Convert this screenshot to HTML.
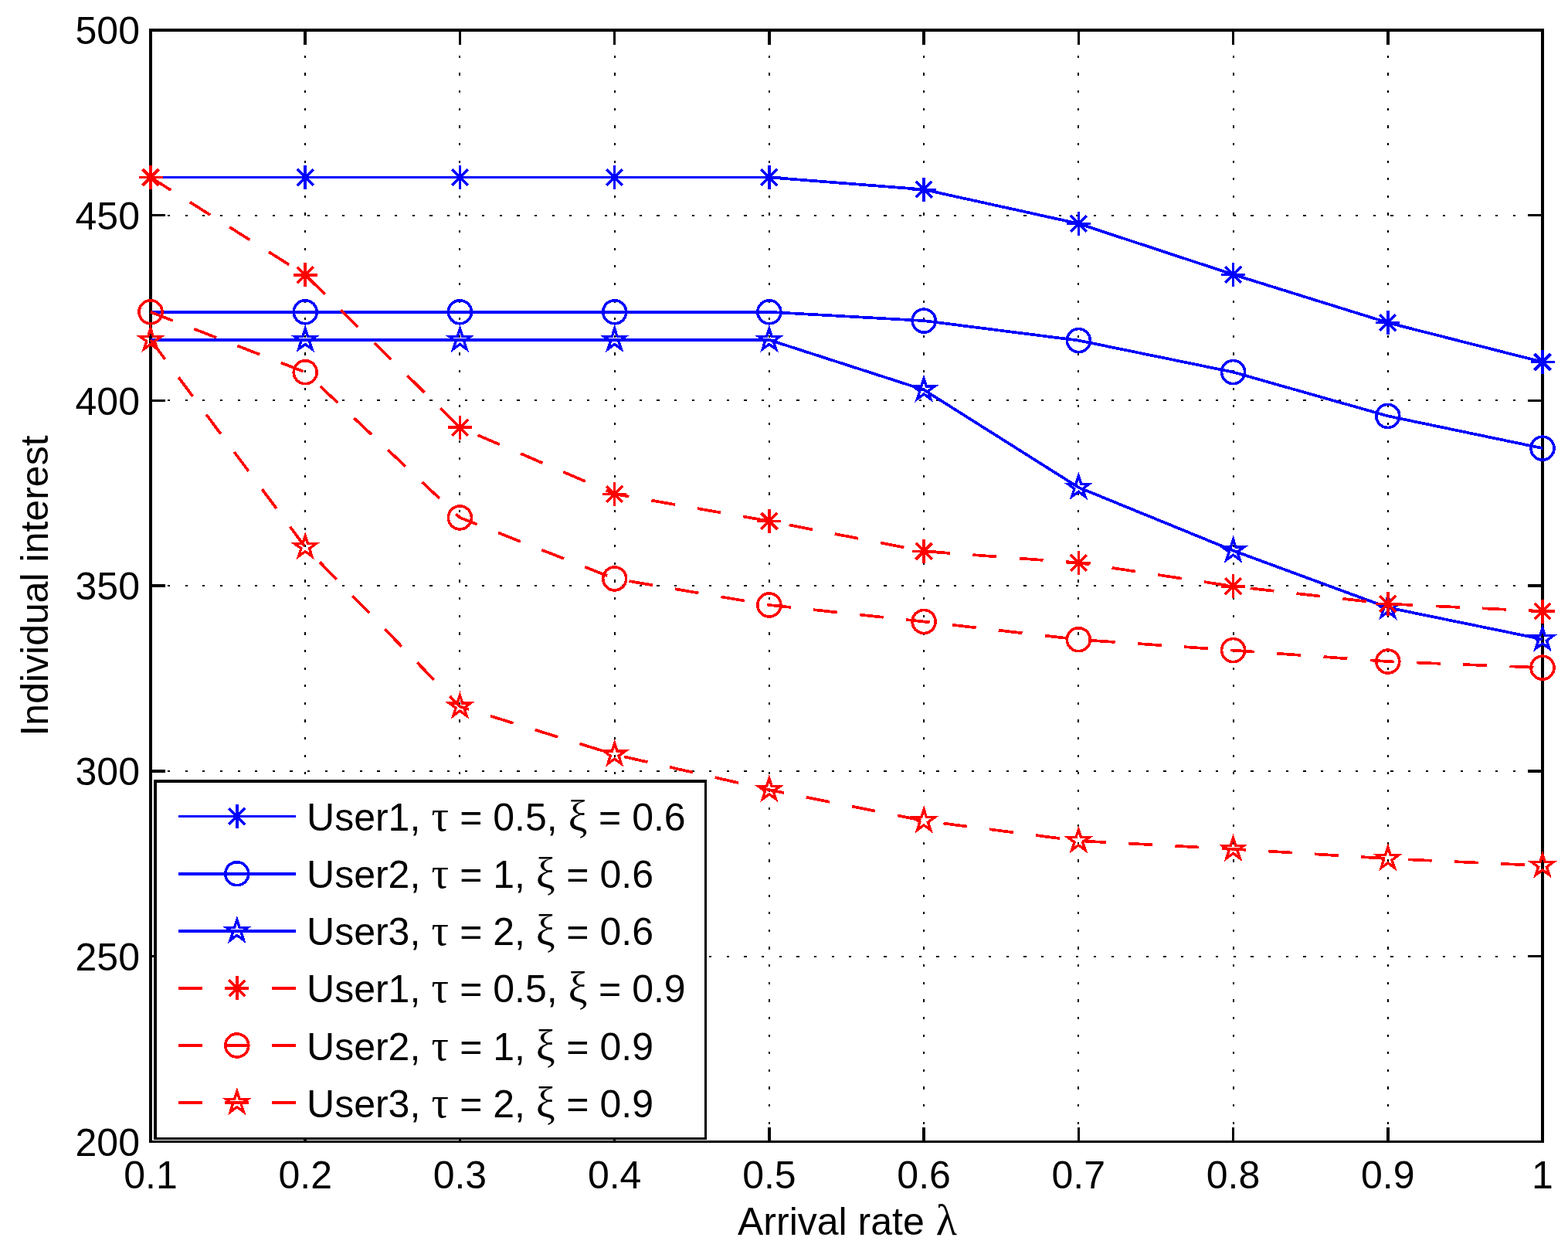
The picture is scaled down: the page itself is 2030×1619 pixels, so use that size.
<!DOCTYPE html>
<html lang="en"><head><meta charset="utf-8"><title>Individual interest vs arrival rate</title>
<style>
html,body{margin:0;padding:0;background:#fff;}
body{width:2030px;height:1619px;overflow:hidden;}
svg{display:block;}
text{font-family:"Liberation Sans",sans-serif;font-size:50px;fill:#000;}
.g{font-family:"Liberation Serif","DejaVu Serif",serif;font-size:56px;}
.m{fill:none;stroke-width:3.6;stroke-linejoin:miter;stroke-miterlimit:10;}
.l{fill:none;stroke-width:3.7;stroke-linejoin:round;}
.d{stroke-dasharray:31.0 29.33;}
</style></head><body>
<svg width="2030" height="1619" viewBox="0 0 2030 1619" shape-rendering="crispEdges">
<rect x="0" y="0" width="2030" height="1619" fill="#fff"/>
<g stroke="#000" stroke-width="2" fill="none" stroke-dasharray="3.2 19.42">
<path d="M395 1477.5V39"/>
<path d="M595 1477.5V39"/>
<path d="M796 1477.5V39"/>
<path d="M996 1477.5V39"/>
<path d="M1196 1477.5V39"/>
<path d="M1396 1477.5V39"/>
<path d="M1597 1477.5V39"/>
<path d="M1797 1477.5V39"/>
<path d="M194.4 279H1997"/>
<path d="M194.4 518H1997"/>
<path d="M194.4 758H1997"/>
<path d="M194.4 998H1997"/>
<path d="M194.4 1238H1997"/>
</g>
<path d="M193 37H1999V41H193zM193 1476H1999V1479H193zM193 37H197V1479H193zM1995 37H1999V1479H1995z" fill="#000"/>
<path d="M393 1459H397V1477H393zM393 40H397V58H393zM594 1459H597V1477H594zM594 40H597V58H594zM794 1459H797V1477H794zM794 40H797V58H794zM994 1459H998V1477H994zM994 40H998V58H994zM1194 1459H1198V1477H1194zM1194 40H1198V58H1194zM1395 1459H1398V1477H1395zM1395 40H1398V58H1395zM1595 1459H1598V1477H1595zM1595 40H1598V58H1595zM1795 1459H1799V1477H1795zM1795 40H1799V58H1795zM196 277H214V280H196zM1978 277H1996V280H1978zM196 517H214V520H196zM1978 517H1996V520H1978zM196 756H214V760H196zM1978 756H1996V760H1978zM196 996H214V1000H196zM1978 996H1996V1000H1978zM196 1236H214V1239H196zM1978 1236H1996V1239H1978z" fill="#000"/>
<g text-anchor="end">
<text x="181" y="56.5">500</text>
<text x="181" y="296.85">450</text>
<text x="181" y="536.6">400</text>
<text x="181" y="776.35">350</text>
<text x="181" y="1016.1">300</text>
<text x="181" y="1255.85">250</text>
<text x="181" y="1495.6">200</text>
</g>
<g text-anchor="middle">
<text x="195" y="1537.5">0.1</text>
<text x="395.22" y="1537.5">0.2</text>
<text x="595.44" y="1537.5">0.3</text>
<text x="795.67" y="1537.5">0.4</text>
<text x="995.89" y="1537.5">0.5</text>
<text x="1196.11" y="1537.5">0.6</text>
<text x="1396.33" y="1537.5">0.7</text>
<text x="1596.56" y="1537.5">0.8</text>
<text x="1796.78" y="1537.5">0.9</text>
<text x="1997" y="1537.5">1</text>
</g>
<text y="1598"><tspan x="955">Arrival rate </tspan><tspan class="g" x="1211.8">λ</tspan></text>
<text transform="translate(62.3 758) rotate(-90)" text-anchor="middle">Individual interest</text>
<polyline class="l" points="195,229.5 395.22,229.5 595.44,229.5 795.67,229.5 995.89,229.5 1196.11,245.3 1396.33,289.4 1596.56,355.3 1796.78,417.6 1997,468.5" stroke="#0000ff"/>
<g class="m"><path d="M179.5 229.5H210.5M195 214V245M184.6 219.1L205.4 239.9M184.6 239.9L205.4 219.1" stroke="#0000ff"/><path d="M379.72 229.5H410.72M395.22 214V245M384.82 219.1L405.62 239.9M384.82 239.9L405.62 219.1" stroke="#0000ff"/><path d="M579.94 229.5H610.94M595.44 214V245M585.04 219.1L605.84 239.9M585.04 239.9L605.84 219.1" stroke="#0000ff"/><path d="M780.17 229.5H811.17M795.67 214V245M785.27 219.1L806.07 239.9M785.27 239.9L806.07 219.1" stroke="#0000ff"/><path d="M980.39 229.5H1011.39M995.89 214V245M985.49 219.1L1006.29 239.9M985.49 239.9L1006.29 219.1" stroke="#0000ff"/><path d="M1180.61 245.3H1211.61M1196.11 229.8V260.8M1185.71 234.9L1206.51 255.7M1185.71 255.7L1206.51 234.9" stroke="#0000ff"/><path d="M1380.83 289.4H1411.83M1396.33 273.9V304.9M1385.93 279L1406.73 299.8M1385.93 299.8L1406.73 279" stroke="#0000ff"/><path d="M1581.06 355.3H1612.06M1596.56 339.8V370.8M1586.16 344.9L1606.96 365.7M1586.16 365.7L1606.96 344.9" stroke="#0000ff"/><path d="M1781.28 417.6H1812.28M1796.78 402.1V433.1M1786.38 407.2L1807.18 428M1786.38 428L1807.18 407.2" stroke="#0000ff"/><path d="M1981.5 468.5H2012.5M1997 453V484M1986.6 458.1L2007.4 478.9M1986.6 478.9L2007.4 458.1" stroke="#0000ff"/></g>
<polyline class="l" points="195,403.8 395.22,403.8 595.44,403.8 795.67,403.8 995.89,403.8 1196.11,415.1 1396.33,440.6 1596.56,481.6 1796.78,538.4 1997,580.1" stroke="#0000ff"/>
<g class="m"><circle cx="195" cy="403.8" r="15.0" stroke="#0000ff"/><circle cx="395.22" cy="403.8" r="15.0" stroke="#0000ff"/><circle cx="595.44" cy="403.8" r="15.0" stroke="#0000ff"/><circle cx="795.67" cy="403.8" r="15.0" stroke="#0000ff"/><circle cx="995.89" cy="403.8" r="15.0" stroke="#0000ff"/><circle cx="1196.11" cy="415.1" r="15.0" stroke="#0000ff"/><circle cx="1396.33" cy="440.6" r="15.0" stroke="#0000ff"/><circle cx="1596.56" cy="481.6" r="15.0" stroke="#0000ff"/><circle cx="1796.78" cy="538.4" r="15.0" stroke="#0000ff"/><circle cx="1997" cy="580.1" r="15.0" stroke="#0000ff"/></g>
<polyline class="l" points="195,439.9 395.22,439.9 595.44,439.9 795.67,439.9 995.89,439.9 1196.11,504.5 1396.33,630.8 1596.56,712.6 1796.78,786.3 1997,827.3" stroke="#0000ff"/>
<g class="m"><polygon points="195,425.2 198.3,435.36 208.98,435.36 200.34,441.64 203.64,451.79 195,445.51 186.36,451.79 189.66,441.64 181.02,435.36 191.7,435.36" stroke="#0000ff" stroke-width="3.4"/><polygon points="395.22,425.2 398.52,435.36 409.2,435.36 400.56,441.64 403.86,451.79 395.22,445.51 386.58,451.79 389.88,441.64 381.24,435.36 391.92,435.36" stroke="#0000ff" stroke-width="3.4"/><polygon points="595.44,425.2 598.74,435.36 609.42,435.36 600.78,441.64 604.08,451.79 595.44,445.51 586.8,451.79 590.1,441.64 581.46,435.36 592.14,435.36" stroke="#0000ff" stroke-width="3.4"/><polygon points="795.67,425.2 798.97,435.36 809.65,435.36 801.01,441.64 804.31,451.79 795.67,445.51 787.03,451.79 790.33,441.64 781.69,435.36 792.37,435.36" stroke="#0000ff" stroke-width="3.4"/><polygon points="995.89,425.2 999.19,435.36 1009.87,435.36 1001.23,441.64 1004.53,451.79 995.89,445.51 987.25,451.79 990.55,441.64 981.91,435.36 992.59,435.36" stroke="#0000ff" stroke-width="3.4"/><polygon points="1196.11,489.8 1199.41,499.96 1210.09,499.96 1201.45,506.24 1204.75,516.39 1196.11,510.11 1187.47,516.39 1190.77,506.24 1182.13,499.96 1192.81,499.96" stroke="#0000ff" stroke-width="3.4"/><polygon points="1396.33,616.1 1399.63,626.26 1410.31,626.26 1401.67,632.54 1404.97,642.69 1396.33,636.41 1387.69,642.69 1390.99,632.54 1382.35,626.26 1393.03,626.26" stroke="#0000ff" stroke-width="3.4"/><polygon points="1596.56,697.9 1599.86,708.06 1610.54,708.06 1601.9,714.34 1605.2,724.49 1596.56,718.21 1587.92,724.49 1591.22,714.34 1582.58,708.06 1593.26,708.06" stroke="#0000ff" stroke-width="3.4"/><polygon points="1796.78,771.6 1800.08,781.76 1810.76,781.76 1802.12,788.04 1805.42,798.19 1796.78,791.91 1788.14,798.19 1791.44,788.04 1782.8,781.76 1793.48,781.76" stroke="#0000ff" stroke-width="3.4"/><polygon points="1997,812.6 2000.3,822.76 2010.98,822.76 2002.34,829.04 2005.64,839.19 1997,832.91 1988.36,839.19 1991.66,829.04 1983.02,822.76 1993.7,822.76" stroke="#0000ff" stroke-width="3.4"/></g>
<polyline class="l d" points="195,229.5 395.22,355.8 595.44,553.2 795.67,639.3 995.89,674.4 1196.11,713.4 1396.33,728.3 1596.56,758.8 1796.78,781.5 1997,791" stroke="#ff0000"/>
<g class="m"><path d="M179.5 229.5H210.5M195 214V245M184.6 219.1L205.4 239.9M184.6 239.9L205.4 219.1" stroke="#ff0000"/><path d="M379.72 355.8H410.72M395.22 340.3V371.3M384.82 345.4L405.62 366.2M384.82 366.2L405.62 345.4" stroke="#ff0000"/><path d="M579.94 553.2H610.94M595.44 537.7V568.7M585.04 542.8L605.84 563.6M585.04 563.6L605.84 542.8" stroke="#ff0000"/><path d="M780.17 639.3H811.17M795.67 623.8V654.8M785.27 628.9L806.07 649.7M785.27 649.7L806.07 628.9" stroke="#ff0000"/><path d="M980.39 674.4H1011.39M995.89 658.9V689.9M985.49 664L1006.29 684.8M985.49 684.8L1006.29 664" stroke="#ff0000"/><path d="M1180.61 713.4H1211.61M1196.11 697.9V728.9M1185.71 703L1206.51 723.8M1185.71 723.8L1206.51 703" stroke="#ff0000"/><path d="M1380.83 728.3H1411.83M1396.33 712.8V743.8M1385.93 717.9L1406.73 738.7M1385.93 738.7L1406.73 717.9" stroke="#ff0000"/><path d="M1581.06 758.8H1612.06M1596.56 743.3V774.3M1586.16 748.4L1606.96 769.2M1586.16 769.2L1606.96 748.4" stroke="#ff0000"/><path d="M1781.28 781.5H1812.28M1796.78 766V797M1786.38 771.1L1807.18 791.9M1786.38 791.9L1807.18 771.1" stroke="#ff0000"/><path d="M1981.5 791H2012.5M1997 775.5V806.5M1986.6 780.6L2007.4 801.4M1986.6 801.4L2007.4 780.6" stroke="#ff0000"/></g>
<polyline class="l d" points="195,403.8 395.22,481.7 595.44,669.9 795.67,748.9 995.89,783 1196.11,804.5 1396.33,827.7 1596.56,841.6 1796.78,856.1 1997,864.1" stroke="#ff0000"/>
<g class="m"><circle cx="195" cy="403.8" r="15.0" stroke="#ff0000"/><circle cx="395.22" cy="481.7" r="15.0" stroke="#ff0000"/><circle cx="595.44" cy="669.9" r="15.0" stroke="#ff0000"/><circle cx="795.67" cy="748.9" r="15.0" stroke="#ff0000"/><circle cx="995.89" cy="783" r="15.0" stroke="#ff0000"/><circle cx="1196.11" cy="804.5" r="15.0" stroke="#ff0000"/><circle cx="1396.33" cy="827.7" r="15.0" stroke="#ff0000"/><circle cx="1596.56" cy="841.6" r="15.0" stroke="#ff0000"/><circle cx="1796.78" cy="856.1" r="15.0" stroke="#ff0000"/><circle cx="1997" cy="864.1" r="15.0" stroke="#ff0000"/></g>
<polyline class="l d" points="195,439.9 395.22,708.1 595.44,914.4 795.67,976.5 995.89,1022.2 1196.11,1062.3 1396.33,1088.2 1596.56,1098.8 1796.78,1111.2 1997,1120.3" stroke="#ff0000"/>
<g class="m"><polygon points="195,425.2 198.3,435.36 208.98,435.36 200.34,441.64 203.64,451.79 195,445.51 186.36,451.79 189.66,441.64 181.02,435.36 191.7,435.36" stroke="#ff0000" stroke-width="3.4"/><polygon points="395.22,693.4 398.52,703.56 409.2,703.56 400.56,709.84 403.86,719.99 395.22,713.71 386.58,719.99 389.88,709.84 381.24,703.56 391.92,703.56" stroke="#ff0000" stroke-width="3.4"/><polygon points="595.44,899.7 598.74,909.86 609.42,909.86 600.78,916.14 604.08,926.29 595.44,920.01 586.8,926.29 590.1,916.14 581.46,909.86 592.14,909.86" stroke="#ff0000" stroke-width="3.4"/><polygon points="795.67,961.8 798.97,971.96 809.65,971.96 801.01,978.24 804.31,988.39 795.67,982.11 787.03,988.39 790.33,978.24 781.69,971.96 792.37,971.96" stroke="#ff0000" stroke-width="3.4"/><polygon points="995.89,1007.5 999.19,1017.66 1009.87,1017.66 1001.23,1023.94 1004.53,1034.09 995.89,1027.81 987.25,1034.09 990.55,1023.94 981.91,1017.66 992.59,1017.66" stroke="#ff0000" stroke-width="3.4"/><polygon points="1196.11,1047.6 1199.41,1057.76 1210.09,1057.76 1201.45,1064.04 1204.75,1074.19 1196.11,1067.91 1187.47,1074.19 1190.77,1064.04 1182.13,1057.76 1192.81,1057.76" stroke="#ff0000" stroke-width="3.4"/><polygon points="1396.33,1073.5 1399.63,1083.66 1410.31,1083.66 1401.67,1089.94 1404.97,1100.09 1396.33,1093.81 1387.69,1100.09 1390.99,1089.94 1382.35,1083.66 1393.03,1083.66" stroke="#ff0000" stroke-width="3.4"/><polygon points="1596.56,1084.1 1599.86,1094.26 1610.54,1094.26 1601.9,1100.54 1605.2,1110.69 1596.56,1104.41 1587.92,1110.69 1591.22,1100.54 1582.58,1094.26 1593.26,1094.26" stroke="#ff0000" stroke-width="3.4"/><polygon points="1796.78,1096.5 1800.08,1106.66 1810.76,1106.66 1802.12,1112.94 1805.42,1123.09 1796.78,1116.81 1788.14,1123.09 1791.44,1112.94 1782.8,1106.66 1793.48,1106.66" stroke="#ff0000" stroke-width="3.4"/><polygon points="1997,1105.6 2000.3,1115.76 2010.98,1115.76 2002.34,1122.04 2005.64,1132.19 1997,1125.91 1988.36,1132.19 1991.66,1122.04 1983.02,1115.76 1993.7,1115.76" stroke="#ff0000" stroke-width="3.4"/></g>
<path d="M199 1009H915V1475H199z" fill="#000"/><path d="M203 1013H912V1472H203z" fill="#fff"/>
<path class="l" d="M231 1056.6H383.2" stroke="#0000ff"/>
<g class="m"><path d="M291.3 1056.6H322.3M306.8 1041.1V1072.1M296.4 1046.2L317.2 1067M296.4 1067L317.2 1046.2" stroke="#0000ff"/></g>
<text y="1075.1"><tspan x="397.05">User1, </tspan><tspan class="g" x="558.48">τ </tspan><tspan x="595.2">= 0.5, </tspan><tspan class="g" x="735.42">ξ </tspan><tspan x="775.05">= 0.6</tspan></text>
<path class="l" d="M231 1130.7H383.2" stroke="#0000ff"/>
<g class="m"><circle cx="306.8" cy="1130.7" r="15.0" stroke="#0000ff"/></g>
<text y="1149.2"><tspan x="397.05">User2, </tspan><tspan class="g" x="558.48">τ </tspan><tspan x="595.2">= 1, </tspan><tspan class="g" x="693.72">ξ </tspan><tspan x="733.35">= 0.6</tspan></text>
<path class="l" d="M231 1204.8H383.2" stroke="#0000ff"/>
<g class="m"><polygon points="306.8,1190.1 310.1,1200.26 320.78,1200.26 312.14,1206.54 315.44,1216.69 306.8,1210.41 298.16,1216.69 301.46,1206.54 292.82,1200.26 303.5,1200.26" stroke="#0000ff" stroke-width="3.4"/></g>
<text y="1223.3"><tspan x="397.05">User3, </tspan><tspan class="g" x="558.48">τ </tspan><tspan x="595.2">= 2, </tspan><tspan class="g" x="693.72">ξ </tspan><tspan x="733.35">= 0.6</tspan></text>
<path class="l d" d="M231 1278.9H383.2" stroke="#ff0000"/>
<g class="m"><path d="M291.3 1278.9H322.3M306.8 1263.4V1294.4M296.4 1268.5L317.2 1289.3M296.4 1289.3L317.2 1268.5" stroke="#ff0000"/></g>
<text y="1297.4"><tspan x="397.05">User1, </tspan><tspan class="g" x="558.48">τ </tspan><tspan x="595.2">= 0.5, </tspan><tspan class="g" x="735.42">ξ </tspan><tspan x="775.05">= 0.9</tspan></text>
<path class="l d" d="M231 1353H383.2" stroke="#ff0000"/>
<g class="m"><circle cx="306.8" cy="1353" r="15.0" stroke="#ff0000"/></g>
<text y="1371.5"><tspan x="397.05">User2, </tspan><tspan class="g" x="558.48">τ </tspan><tspan x="595.2">= 1, </tspan><tspan class="g" x="693.72">ξ </tspan><tspan x="733.35">= 0.9</tspan></text>
<path class="l d" d="M231 1427.1H383.2" stroke="#ff0000"/>
<g class="m"><polygon points="306.8,1412.4 310.1,1422.56 320.78,1422.56 312.14,1428.84 315.44,1438.99 306.8,1432.71 298.16,1438.99 301.46,1428.84 292.82,1422.56 303.5,1422.56" stroke="#ff0000" stroke-width="3.4"/></g>
<text y="1445.6"><tspan x="397.05">User3, </tspan><tspan class="g" x="558.48">τ </tspan><tspan x="595.2">= 2, </tspan><tspan class="g" x="693.72">ξ </tspan><tspan x="733.35">= 0.9</tspan></text>
</svg>
</body></html>
